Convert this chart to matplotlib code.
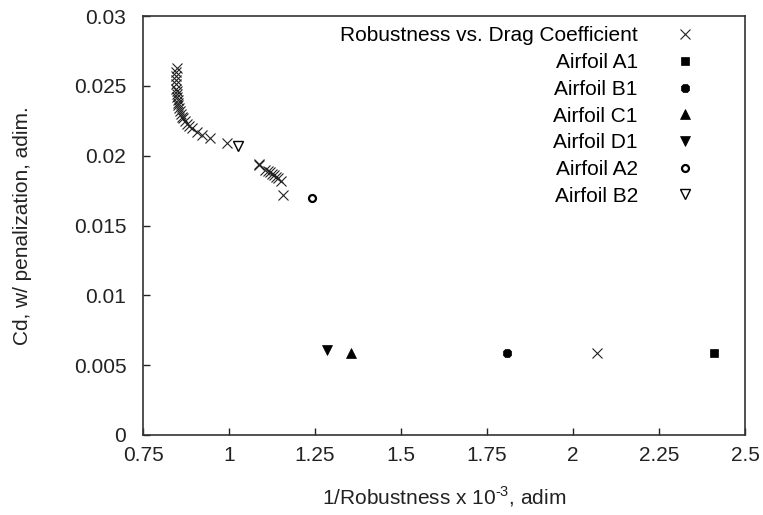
import matplotlib
matplotlib.use("Agg")
import matplotlib.pyplot as plt

plt.rcParams['font.family'] = ['Liberation Sans', 'DejaVu Sans']
plt.rcParams['mathtext.fontset'] = 'custom'
plt.rcParams['mathtext.rm'] = 'Liberation Sans'

# Robustness vs. Drag Coefficient series
rob_x = [0.848, 0.847, 0.846, 0.846, 0.847, 0.847, 0.848, 0.849, 0.850, 0.851,
         0.852, 0.853, 0.855, 0.857, 0.860, 0.863, 0.867, 0.871, 0.877, 0.883,
         0.892, 0.906, 0.921, 0.945, 0.994,
         1.087, 1.088, 1.105, 1.112, 1.118, 1.124, 1.130, 1.136, 1.142, 1.150,
         1.156, 2.069]
rob_y = [0.0263, 0.0260, 0.0257, 0.0254, 0.0251, 0.0248, 0.0246, 0.0244, 0.0242, 0.0240,
         0.0238, 0.0236, 0.0234, 0.0232, 0.0230, 0.0228, 0.0227, 0.0225, 0.0223, 0.0221,
         0.0220, 0.0217, 0.0215, 0.0213, 0.0209,
         0.0194, 0.0193, 0.0190, 0.0189, 0.0188, 0.0187, 0.0186, 0.0185, 0.0184, 0.0182,
         0.0172, 0.0059]

airfoil_names = ["Airfoil A1", "Airfoil B1", "Airfoil C1", "Airfoil D1", "Airfoil A2", "Airfoil B2"]
airfoil_x = [2.41, 1.808, 1.354, 1.284, 1.240, 1.026]
airfoil_y = [0.0059, 0.0059, 0.0059, 0.0061, 0.0170, 0.0207]

xticks = [0.75, 1, 1.25, 1.5, 1.75, 2, 2.25, 2.5]
xtick_labels = ["0.75", "1", "1.25", "1.5", "1.75", "2", "2.25", "2.5"]
yticks = [0, 0.005, 0.01, 0.015, 0.02, 0.025, 0.03]
ytick_labels = ["0", "0.005", "0.01", "0.015", "0.02", "0.025", "0.03"]

styles = [
    dict(marker='s', ms=6.2, mfc='black', mec='black', mew=0.5),
    dict(marker='8', ms=5.8, mfc='black', mec='black', mew=0.5),
    dict(marker='^', ms=7.0, mfc='black', mec='black', mew=0.5),
    dict(marker='v', ms=7.0, mfc='black', mec='black', mew=0.5),
    dict(marker='o', ms=5.0, mfc='white', mec='black', mew=1.6),
    dict(marker='v', ms=7.0, mfc='white', mec='black', mew=1.0),
]

FS = 15

fig = plt.figure(figsize=(7.63, 5.15), dpi=100)
ax = fig.add_axes([143/763, 1 - 435/515, (745-143)/763, (435-16)/515])

ax.plot(rob_x, rob_y, linestyle='none', marker='x', ms=7, mew=0.8,
        color='#222222', label="Robustness vs. Drag Coefficient")
for name, x, y, st in zip(airfoil_names, airfoil_x, airfoil_y, styles):
    ax.plot([x], [y], linestyle='none', label=name, **st)

ax.set_xlim(0.75, 2.5)
ax.set_ylim(0, 0.03)
ax.set_xticks(xticks)
ax.set_xticklabels(xtick_labels)
ax.set_yticks(yticks)
ax.set_yticklabels(ytick_labels)
ax.tick_params(direction='in', length=5, width=1, labelsize=FS, colors='#222222')
ax.tick_params(axis='x', pad=8)
ax.tick_params(axis='y', pad=12)
for s in ax.spines.values():
    s.set_linewidth(1.2)
    s.set_color('#333333')

ax.set_xlabel(r"1/Robustness x 10$^{\mathrm{\text{-}3}}$, adim", fontsize=FS, labelpad=14, color='#222222')
ax.set_ylabel("Cd, w/ penalization, adim.", fontsize=FS, labelpad=30, color='#222222')

leg = ax.legend(loc='upper right', frameon=False, markerfirst=False, fontsize=FS,
                labelspacing=0.37, handlelength=1.5, handletextpad=1.5,
                borderaxespad=0.3, bbox_to_anchor=(0.95, 1.01))

fig.savefig("out.png", dpi=100)
